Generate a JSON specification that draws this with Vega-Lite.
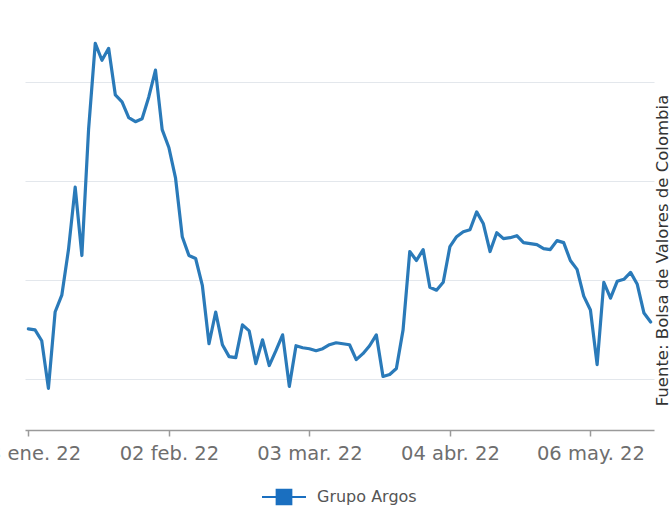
{
  "$schema": "https://vega.github.io/schema/vega-lite/v6.json",
  "width": 629,
  "height": 400,
  "autosize": "none",
  "padding": {"left": 25, "top": 30, "right": 16, "bottom": 84},
  "background": "#ffffff",
  "data": {
    "values": [
      {"fecha": "03 ene. 22", "serie": "Grupo Argos", "precio": 12510},
      {"fecha": "04 ene. 22", "serie": "Grupo Argos", "precio": 12500},
      {"fecha": "05 ene. 22", "serie": "Grupo Argos", "precio": 12390},
      {"fecha": "06 ene. 22", "serie": "Grupo Argos", "precio": 11910},
      {"fecha": "07 ene. 22", "serie": "Grupo Argos", "precio": 12680},
      {"fecha": "11 ene. 22", "serie": "Grupo Argos", "precio": 12850},
      {"fecha": "12 ene. 22", "serie": "Grupo Argos", "precio": 13310},
      {"fecha": "13 ene. 22", "serie": "Grupo Argos", "precio": 13940},
      {"fecha": "14 ene. 22", "serie": "Grupo Argos", "precio": 13250},
      {"fecha": "17 ene. 22", "serie": "Grupo Argos", "precio": 14520},
      {"fecha": "18 ene. 22", "serie": "Grupo Argos", "precio": 15390},
      {"fecha": "19 ene. 22", "serie": "Grupo Argos", "precio": 15220},
      {"fecha": "20 ene. 22", "serie": "Grupo Argos", "precio": 15340},
      {"fecha": "21 ene. 22", "serie": "Grupo Argos", "precio": 14870},
      {"fecha": "24 ene. 22", "serie": "Grupo Argos", "precio": 14800},
      {"fecha": "25 ene. 22", "serie": "Grupo Argos", "precio": 14640},
      {"fecha": "26 ene. 22", "serie": "Grupo Argos", "precio": 14600},
      {"fecha": "27 ene. 22", "serie": "Grupo Argos", "precio": 14630},
      {"fecha": "28 ene. 22", "serie": "Grupo Argos", "precio": 14850},
      {"fecha": "31 ene. 22", "serie": "Grupo Argos", "precio": 15120},
      {"fecha": "01 feb. 22", "serie": "Grupo Argos", "precio": 14520},
      {"fecha": "02 feb. 22", "serie": "Grupo Argos", "precio": 14340},
      {"fecha": "03 feb. 22", "serie": "Grupo Argos", "precio": 14030},
      {"fecha": "04 feb. 22", "serie": "Grupo Argos", "precio": 13440},
      {"fecha": "07 feb. 22", "serie": "Grupo Argos", "precio": 13250},
      {"fecha": "08 feb. 22", "serie": "Grupo Argos", "precio": 13220},
      {"fecha": "09 feb. 22", "serie": "Grupo Argos", "precio": 12950},
      {"fecha": "10 feb. 22", "serie": "Grupo Argos", "precio": 12360},
      {"fecha": "11 feb. 22", "serie": "Grupo Argos", "precio": 12680},
      {"fecha": "14 feb. 22", "serie": "Grupo Argos", "precio": 12350},
      {"fecha": "15 feb. 22", "serie": "Grupo Argos", "precio": 12230},
      {"fecha": "16 feb. 22", "serie": "Grupo Argos", "precio": 12220},
      {"fecha": "17 feb. 22", "serie": "Grupo Argos", "precio": 12550},
      {"fecha": "18 feb. 22", "serie": "Grupo Argos", "precio": 12490},
      {"fecha": "21 feb. 22", "serie": "Grupo Argos", "precio": 12160},
      {"fecha": "22 feb. 22", "serie": "Grupo Argos", "precio": 12400},
      {"fecha": "23 feb. 22", "serie": "Grupo Argos", "precio": 12140},
      {"fecha": "24 feb. 22", "serie": "Grupo Argos", "precio": 12290},
      {"fecha": "25 feb. 22", "serie": "Grupo Argos", "precio": 12450},
      {"fecha": "28 feb. 22", "serie": "Grupo Argos", "precio": 11930},
      {"fecha": "01 mar. 22", "serie": "Grupo Argos", "precio": 12340},
      {"fecha": "02 mar. 22", "serie": "Grupo Argos", "precio": 12320},
      {"fecha": "03 mar. 22", "serie": "Grupo Argos", "precio": 12310},
      {"fecha": "04 mar. 22", "serie": "Grupo Argos", "precio": 12290},
      {"fecha": "07 mar. 22", "serie": "Grupo Argos", "precio": 12310},
      {"fecha": "08 mar. 22", "serie": "Grupo Argos", "precio": 12350},
      {"fecha": "09 mar. 22", "serie": "Grupo Argos", "precio": 12370},
      {"fecha": "10 mar. 22", "serie": "Grupo Argos", "precio": 12360},
      {"fecha": "11 mar. 22", "serie": "Grupo Argos", "precio": 12350},
      {"fecha": "14 mar. 22", "serie": "Grupo Argos", "precio": 12200},
      {"fecha": "15 mar. 22", "serie": "Grupo Argos", "precio": 12260},
      {"fecha": "16 mar. 22", "serie": "Grupo Argos", "precio": 12340},
      {"fecha": "17 mar. 22", "serie": "Grupo Argos", "precio": 12450},
      {"fecha": "18 mar. 22", "serie": "Grupo Argos", "precio": 12030},
      {"fecha": "22 mar. 22", "serie": "Grupo Argos", "precio": 12050},
      {"fecha": "23 mar. 22", "serie": "Grupo Argos", "precio": 12110},
      {"fecha": "24 mar. 22", "serie": "Grupo Argos", "precio": 12500},
      {"fecha": "25 mar. 22", "serie": "Grupo Argos", "precio": 13290},
      {"fecha": "28 mar. 22", "serie": "Grupo Argos", "precio": 13200},
      {"fecha": "29 mar. 22", "serie": "Grupo Argos", "precio": 13310},
      {"fecha": "30 mar. 22", "serie": "Grupo Argos", "precio": 12930},
      {"fecha": "31 mar. 22", "serie": "Grupo Argos", "precio": 12900},
      {"fecha": "01 abr. 22", "serie": "Grupo Argos", "precio": 12980},
      {"fecha": "04 abr. 22", "serie": "Grupo Argos", "precio": 13340},
      {"fecha": "05 abr. 22", "serie": "Grupo Argos", "precio": 13440},
      {"fecha": "06 abr. 22", "serie": "Grupo Argos", "precio": 13490},
      {"fecha": "07 abr. 22", "serie": "Grupo Argos", "precio": 13510},
      {"fecha": "08 abr. 22", "serie": "Grupo Argos", "precio": 13690},
      {"fecha": "11 abr. 22", "serie": "Grupo Argos", "precio": 13570},
      {"fecha": "12 abr. 22", "serie": "Grupo Argos", "precio": 13290},
      {"fecha": "18 abr. 22", "serie": "Grupo Argos", "precio": 13480},
      {"fecha": "19 abr. 22", "serie": "Grupo Argos", "precio": 13420},
      {"fecha": "20 abr. 22", "serie": "Grupo Argos", "precio": 13430},
      {"fecha": "21 abr. 22", "serie": "Grupo Argos", "precio": 13450},
      {"fecha": "22 abr. 22", "serie": "Grupo Argos", "precio": 13380},
      {"fecha": "25 abr. 22", "serie": "Grupo Argos", "precio": 13370},
      {"fecha": "26 abr. 22", "serie": "Grupo Argos", "precio": 13360},
      {"fecha": "27 abr. 22", "serie": "Grupo Argos", "precio": 13320},
      {"fecha": "28 abr. 22", "serie": "Grupo Argos", "precio": 13310},
      {"fecha": "29 abr. 22", "serie": "Grupo Argos", "precio": 13400},
      {"fecha": "02 may. 22", "serie": "Grupo Argos", "precio": 13380},
      {"fecha": "03 may. 22", "serie": "Grupo Argos", "precio": 13200},
      {"fecha": "04 may. 22", "serie": "Grupo Argos", "precio": 13110},
      {"fecha": "05 may. 22", "serie": "Grupo Argos", "precio": 12840},
      {"fecha": "06 may. 22", "serie": "Grupo Argos", "precio": 12700},
      {"fecha": "09 may. 22", "serie": "Grupo Argos", "precio": 12150},
      {"fecha": "10 may. 22", "serie": "Grupo Argos", "precio": 12980},
      {"fecha": "11 may. 22", "serie": "Grupo Argos", "precio": 12820},
      {"fecha": "12 may. 22", "serie": "Grupo Argos", "precio": 12990},
      {"fecha": "13 may. 22", "serie": "Grupo Argos", "precio": 13010},
      {"fecha": "16 may. 22", "serie": "Grupo Argos", "precio": 13080},
      {"fecha": "17 may. 22", "serie": "Grupo Argos", "precio": 12960},
      {"fecha": "18 may. 22", "serie": "Grupo Argos", "precio": 12670},
      {"fecha": "19 may. 22", "serie": "Grupo Argos", "precio": 12580}
    ]
  },
  "mark": {"type": "line", "strokeWidth": 3.2, "strokeJoin": "round", "strokeCap": "round"},
  "encoding": {
    "x": {
      "field": "fecha",
      "type": "ordinal",
      "sort": null,
      "scale": {"type": "point", "padding": 0.5},
      "axis": {
        "title": null,
        "values": ["03 ene. 22", "02 feb. 22", "03 mar. 22", "04 abr. 22", "06 may. 22"],
        "labelAngle": 0,
        "labelFont": "DejaVu Sans",
        "labelFontSize": 19.5,
        "labelColor": "#6e6e6e",
        "labelPadding": 8,
        "labelOverlap": false,
        "labelBound": false,
        "tickSize": 6,
        "tickColor": "#9a9a9a",
        "tickWidth": 1.5,
        "domainColor": "#9a9a9a",
        "domainWidth": 1.5,
        "grid": false
      }
    },
    "y": {
      "field": "precio",
      "type": "quantitative",
      "scale": {"domain": [11490, 15525], "zero": false, "nice": false},
      "axis": {
        "orient": "right",
        "values": [12000, 13000, 14000, 15000],
        "grid": true,
        "gridColor": "#e3e7ec",
        "gridWidth": 1.2,
        "labels": false,
        "ticks": false,
        "domain": false,
        "title": "Fuente: Bolsa de Valores de Colombia",
        "titleAngle": 270,
        "titleX": 8,
        "titleY": 220,
        "titleAlign": "center",
        "titleBaseline": "middle",
        "titleFont": "DejaVu Sans",
        "titleFontSize": 16.5,
        "titleFontWeight": "normal",
        "titleColor": "#333333"
      }
    },
    "color": {
      "field": "serie",
      "type": "nominal",
      "scale": {"range": ["#2a7ab9"]},
      "legend": {
        "title": null,
        "orient": "none",
        "legendX": 237,
        "legendY": 445,
        "padding": 0,
        "symbolType": "M-1,-0.05L1,-0.05L1,0.05L-1,0.05Z M-0.38,-0.38L0.38,-0.38L0.38,0.38L-0.38,0.38Z",
        "symbolSize": 1936,
        "labelOffset": 11,
        "labelFont": "DejaVu Sans",
        "labelFontSize": 16,
        "labelColor": "#555555",
        "encode": {
          "symbols": {
            "update": {
              "fill": {"value": "#1a6fc0"},
              "stroke": {"value": "transparent"},
              "strokeWidth": {"value": 0}
            }
          }
        }
      }
    }
  },
  "config": {
    "view": {"stroke": null}
  }
}
